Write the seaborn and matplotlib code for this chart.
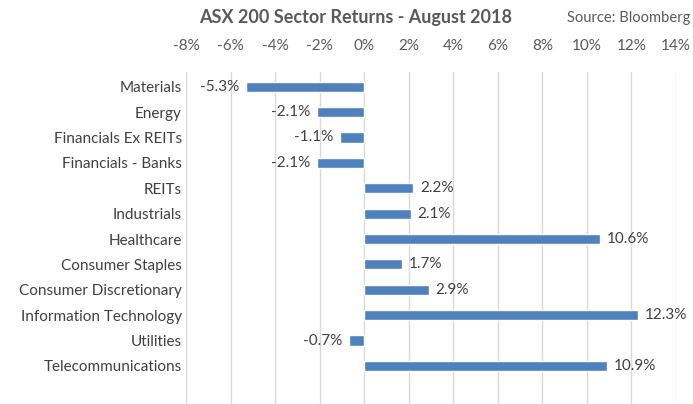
import seaborn as sns
import pandas as pd
import matplotlib.pyplot as plt
from matplotlib.ticker import FuncFormatter

sectors = ['Materials', 'Energy', 'Financials Ex REITs', 'Financials - Banks', 'REITs',
           'Industrials', 'Healthcare', 'Consumer Staples', 'Consumer Discretionary',
           'Information Technology', 'Utilities', 'Telecommunications']
returns = [-5.3, -2.1, -1.1, -2.1, 2.2, 2.1, 10.6, 1.7, 2.9, 12.3, -0.7, 10.9]
ticks = list(range(-8, 15, 2))

df = pd.DataFrame({'sector': sectors, 'ret': returns})

sns.set_style('white')
plt.rcParams['font.family'] = ['Lato', 'DejaVu Sans']

fig = plt.figure(figsize=(6.93, 4.04), dpi=100)
ax = fig.add_axes([186 / 693, 0, 490 / 693, 332 / 404])

sns.barplot(data=df, x='ret', y='sector', color='#4F81BD', saturation=1,
            width=0.4, orient='h', ax=ax)

ax.set_xlim(-8, 14)
ax.set_ylim(12.5, -0.58)
ax.set_xticks(ticks)
ax.xaxis.set_major_formatter(FuncFormatter(lambda v, p: f'{v:.0f}%'))
ax.xaxis.tick_top()
ax.tick_params(axis='x', length=0, pad=14, labelsize=11, labelcolor='#595959')
ax.tick_params(axis='y', length=0, pad=3, labelsize=11, labelcolor='#404040')
ax.grid(axis='x', color='#d9d9d9', linewidth=1)
ax.set_axisbelow(True)
for s in ax.spines.values():
    s.set_visible(False)
ax.set_xlabel('')
ax.set_ylabel('')

for i, v in enumerate(returns):
    if v < 0:
        ax.text(v - 0.3, i, f'{v:.1f}%', ha='right', va='center', fontsize=11, color='#404040')
    else:
        ax.text(v + 0.3, i, f'{v:.1f}%', ha='left', va='center', fontsize=11, color='#404040')

fig.text(356 / 693, 1 - 18 / 404, 'ASX 200 Sector Returns - August 2018', ha='center', va='center',
         fontsize=13, fontweight='bold', color='#595959')
fig.text(690 / 693, 1 - 18 / 404, 'Source: Bloomberg', ha='right', va='center',
         fontsize=10.6, color='#595959')

fig.savefig('out.png', dpi=100)
